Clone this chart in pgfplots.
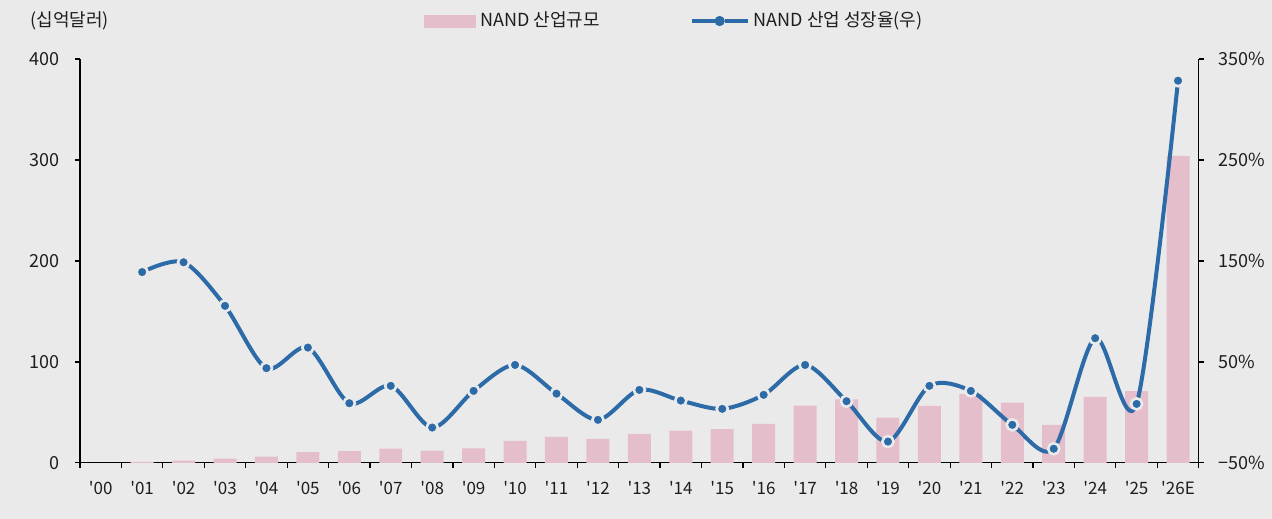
\documentclass[border=0pt]{standalone}
\usepackage{pgfplots}
\pgfplotsset{compat=1.18}
\usepackage{fontspec}
\setmainfont{Noto Sans CJK KR}
\definecolor{bg}{HTML}{EAEAEA}
\definecolor{barc}{HTML}{E5BECB}
\definecolor{linec}{HTML}{2C6BA7}
\definecolor{txt}{HTML}{1E1E1E}
\newcommand\q{\textquotesingle}
\begin{document}
\begin{tikzpicture}[x=1pt,y=1pt]
\fill[bg] (-40,-28) rectangle (596,231.5);
\pgfplotsset{
  common/.style={
    at={(0,0)}, anchor=south west, scale only axis,
    width=559.5pt, height=202pt,
    xmin=-0.5, xmax=26.5,
    axis line style={-, black, line width=0.6pt},
    tick style={black, line width=0.6pt},
    tick align=outside,
    major tick length=2.5pt, minor tick length=2.5pt,
    xticklabel style={font=\fontsize{8.5}{10}\selectfont, text=txt},
    yticklabel style={font=\fontsize{9}{10}\selectfont, text=txt},
    /pgf/number format/assume math mode=true,
    clip=false,
  }
}
\begin{axis}[common, name=ax,
  axis x line*=bottom, axis y line*=left,
  ymin=0, ymax=400, ytick={0,100,200,300,400},
  xtick={0,...,26},
  xticklabels={\q 00,\q 01,\q 02,\q 03,\q 04,\q 05,\q 06,\q 07,\q 08,\q 09,\q 10,\q 11,\q 12,\q 13,\q 14,\q 15,\q 16,\q 17,\q 18,\q 19,\q 20,\q 21,\q 22,\q 23,\q 24,\q 25,\q 26E},
  major x tick style={draw=none},
  minor xtick={-0.5,0.5,1.5,2.5,3.5,4.5,5.5,6.5,7.5,8.5,9.5,10.5,11.5,12.5,13.5,14.5,15.5,16.5,17.5,18.5,19.5,20.5,21.5,22.5,23.5,24.5,25.5,26.5},
  yticklabel style={xshift=-4pt},
  xticklabel style={yshift=-3pt},
]
\addplot[ybar, bar width=11.5pt, fill=barc, draw=none] coordinates {
(1,1) (2,2.3) (3,4.3) (4,6.2) (5,10.6) (6,11.6) (7,14.2) (8,12.2) (9,14.5)
(10,21.8) (11,25.7) (12,23.8) (13,28.7) (14,32) (15,33.4) (16,38.6) (17,56.7)
(18,63) (19,44.9) (20,56.4) (21,68.3) (22,59.7) (23,37.6) (24,65.3) (25,71) (26,304)
};
\end{axis}
\begin{axis}[common,
  axis x line=none, axis y line*=right,
  ymin=-50, ymax=350, ytick={-50,50,150,250,350},
  yticklabels={−50\%,50\%,150\%,250\%,350\%},
  yticklabel style={xshift=4pt},
  legend style={at={(0.3074,1.094)}, anchor=west, draw=none, fill=none,
    font=\fontsize{9}{10}\selectfont, text=txt, inner sep=0pt,
    /tikz/every even column/.append style={column sep=43pt}},
  legend columns=2, legend cell align=left,
]
\addlegendimage{legend image code/.code={\fill[barc] (0pt,-3pt) rectangle (25.5pt,3pt);}}
\addlegendentry{NAND 산업규모}
\addplot[linec, line width=2pt, smooth, tension=0.5, mark=*, mark size=2.8pt,
  mark options={fill=linec, draw=bg, line width=1.3pt},
  legend image code/.code={\draw[linec, line width=2pt] (0pt,0pt) -- (11.5pt,0pt);
    \draw[linec, line width=2pt] (16.5pt,0pt) -- (28pt,0pt);
    \fill[linec] (14pt,0pt) circle (1.5pt);}] coordinates {
(1,139) (2,148.7) (3,105.5) (4,43.8) (5,64.2) (6,9.1) (7,26.3) (8,-15) (9,21.3)
(10,47) (11,18.6) (12,-7.4) (13,22.3) (14,11.7) (15,3.5) (16,17.4) (17,47)
(18,11.1) (19,-28.9) (20,26.3) (21,21.3) (22,-12.3) (23,-36) (24,73.5) (25,8.4) (26,328.5)
};
\addlegendentry{NAND 산업 성장율(우)}
\end{axis}
\node[anchor=west, font=\fontsize{9}{10}\selectfont, text=txt, inner sep=0pt] at ([xshift=-25pt, yshift=19pt]ax.north west) {(십억달러)};
\end{tikzpicture}
\end{document}
